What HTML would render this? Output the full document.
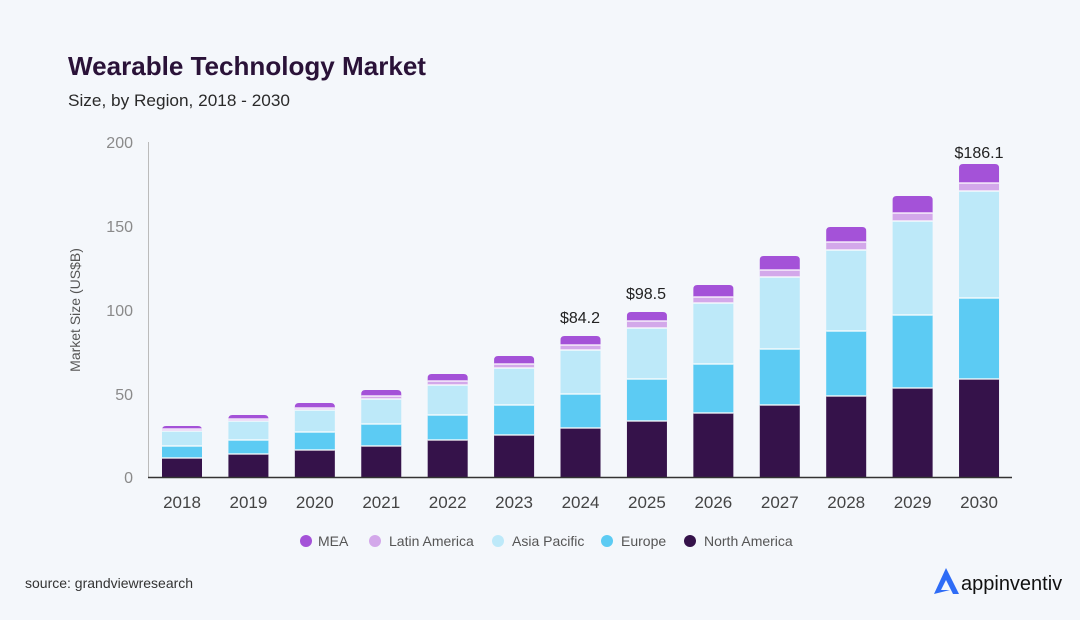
<!DOCTYPE html>
<html><head><meta charset="utf-8"><style>
html,body{margin:0;padding:0;background:#f4f7fb;}
svg{display:block;font-family:"Liberation Sans",sans-serif;}
</style></head><body>
<svg width="1080" height="620" viewBox="0 0 1080 620" xmlns="http://www.w3.org/2000/svg">
<rect width="1080" height="620" fill="#f4f7fb"/>
<text x="68" y="75" font-size="26" font-weight="bold" fill="#2a1238" textLength="358" lengthAdjust="spacingAndGlyphs">Wearable Technology Market</text>
<text x="68" y="106" font-size="17" fill="#2a2a2a" textLength="222" lengthAdjust="spacingAndGlyphs">Size, by Region, 2018 - 2030</text>
<g font-size="16" fill="#8a8a8a" text-anchor="end">
<text x="133" y="148">200</text><text x="133" y="232">150</text><text x="133" y="316">100</text><text x="133" y="400">50</text><text x="133" y="483">0</text>
</g>
<text transform="translate(80,310) rotate(-90)" font-size="14" fill="#555" text-anchor="middle">Market Size (US$B)</text>
<line x1="148.5" y1="142" x2="148.5" y2="477" stroke="#bbb" stroke-width="1"/>
<g id="bars"></g>
<line x1="148" y1="477.5" x2="1012" y2="477.5" stroke="#333" stroke-width="1.5"/>
<g font-size="17" fill="#444" text-anchor="middle" id="xl"></g>
<g font-size="16" fill="#222" text-anchor="middle">
<text x="580" y="323">$84.2</text><text x="646" y="299">$98.5</text><text x="979" y="158">$186.1</text>
</g>
<g font-size="14" fill="#555">
<circle cx="306" cy="541" r="6" fill="#a452d8"/><text x="318" y="546">MEA</text>
<circle cx="375" cy="541" r="6" fill="#d3a8ea"/><text x="389" y="546">Latin America</text>
<circle cx="498" cy="541" r="6" fill="#bde9f9"/><text x="512" y="546">Asia Pacific</text>
<circle cx="607" cy="541" r="6" fill="#5ccbf3"/><text x="621" y="546">Europe</text>
<circle cx="690" cy="541" r="6" fill="#35124a"/><text x="704" y="546">North America</text>
</g>
<text x="25" y="588" font-size="14" fill="#333">source: grandviewresearch</text>
<path d="M934 594 L946 568 L959 594 L953 594 L946 580 L941 590 L950 590 Z" fill="#2e6cf6"/>
<text x="961" y="590" font-size="20" fill="#111">appinventiv</text>
<script>
var tops=[[458,446,431,429,426],[454,440,421,419,415],[450,432,410,408,403],[446,424,399,396,390],[440,415,385,381,374],[435,405,368,364,356],[428,394,350,345,336],[421,379,328,321,312],[413,364,303,297,285],[405,349,277,270,256],[396,331,250,242,227],[388,315,221,213,196],[379,298,191,183,164]];
var cols=["#35124a","#5ccbf3","#bde9f9","#d3a8ea","#a452d8"];
var ns="http://www.w3.org/2000/svg",g=document.getElementById("bars"),xl=document.getElementById("xl");
tops.forEach(function(t,i){var cx=182+i*66.42,x=cx-20,prev=477;
for(var k=0;k<5;k++){var y=t[k],h=prev-y;var e;
if(k==4){e=document.createElementNS(ns,"path");var r=4;
e.setAttribute("d","M"+x+" "+prev+"V"+(y+r)+"Q"+x+" "+y+" "+(x+r)+" "+y+"H"+(x+40-r)+"Q"+(x+40)+" "+y+" "+(x+40)+" "+(y+r)+"V"+prev+"Z");}
else{e=document.createElementNS(ns,"rect");e.setAttribute("x",x);e.setAttribute("y",y);e.setAttribute("width",40);e.setAttribute("height",h);}
e.setAttribute("fill",cols[k]);g.appendChild(e);prev=y;}
for(var k=0;k<4;k++){var l=document.createElementNS(ns,"line");l.setAttribute("x1",x);l.setAttribute("x2",x+40);l.setAttribute("y1",t[k]);l.setAttribute("y2",t[k]);l.setAttribute("stroke","#fff");l.setAttribute("stroke-width","1.2");g.appendChild(l);}
var tx=document.createElementNS(ns,"text");tx.setAttribute("x",cx);tx.setAttribute("y",508);tx.textContent=2018+i;xl.appendChild(tx);});
</script>
</svg>
</body></html>
